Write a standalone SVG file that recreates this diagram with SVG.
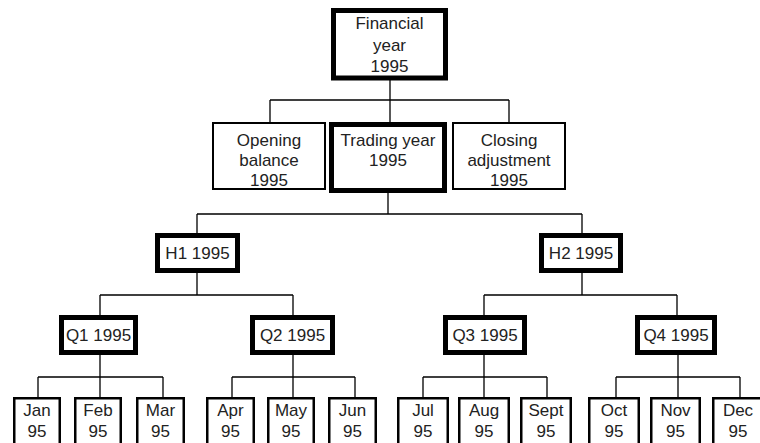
<svg xmlns="http://www.w3.org/2000/svg" width="760" height="443" viewBox="0 0 760 443">
  <style>
    .thin { fill: #fff; stroke: #000; stroke-width: 2; }
    .thick { fill: #fff; stroke: #000; stroke-width: 5; }
    .month { fill: #fff; stroke: #000; stroke-width: 2.5; }
    .lbl { font-family: "Liberation Sans", Arial, sans-serif; font-size: 17px; fill: #222; text-anchor: middle; }
    .wire { fill: none; stroke: #000; stroke-width: 1.3; }
  </style>
  <rect width="760" height="443" fill="#fff"/>

  <!-- connectors -->
  <g id="connectors" class="wire">
    <path d="M390 80 V100 M270 100 H509 M270 100 V122 M390 100 V122 M509 100 V122"/>
    <path d="M388 193 V214 M197 214 H582 M197 214 V233 M582 214 V233"/>
    <path d="M197 273 V295 M100 295 H293 M100 295 V315 M293 295 V315"/>
    <path d="M582 273 V295 M484 295 H677 M484 295 V315 M677 295 V315"/>
    <path d="M100 355 V377 M38 377 H163 M38 377 V397 M100 377 V397 M163 377 V397"/>
    <path d="M293 355 V377 M232 377 H355 M232 377 V397 M293 377 V397 M355 377 V397"/>
    <path d="M484 355 V377 M423 377 H547 M423 377 V397 M484 377 V397 M547 377 V397"/>
    <path d="M678 355 V377 M616 377 H740 M616 377 V397 M678 377 V397 M740 377 V397"/>
  </g>

  <!-- level 0 -->
  <g id="financial-year">
    <rect class="thick" x="333.5" y="10.5" width="112" height="67.5"/>
    <text class="lbl" x="389.5" y="29">Financial</text>
    <text class="lbl" x="389.5" y="50.5">year</text>
    <text class="lbl" x="389.5" y="72">1995</text>
  </g>

  <!-- level 1 -->
  <g id="opening-balance">
    <rect class="thin" x="213" y="123" width="112" height="66"/>
    <text class="lbl" x="269" y="146">Opening</text>
    <text class="lbl" x="269" y="166">balance</text>
    <text class="lbl" x="269" y="186">1995</text>
  </g>
  <g id="trading-year">
    <rect class="thick" x="331.5" y="124.5" width="113" height="66"/>
    <text class="lbl" x="388" y="146">Trading year</text>
    <text class="lbl" x="388" y="166">1995</text>
  </g>
  <g id="closing-adjustment">
    <rect class="thin" x="453" y="123" width="112" height="66"/>
    <text class="lbl" x="509" y="146">Closing</text>
    <text class="lbl" x="509" y="166">adjustment</text>
    <text class="lbl" x="509" y="186">1995</text>
  </g>

  <!-- halves -->
  <g id="h1">
    <rect class="thick" x="157.5" y="235.5" width="80" height="35"/>
    <text class="lbl" x="197.5" y="259">H1 1995</text>
  </g>
  <g id="h2">
    <rect class="thick" x="541.5" y="235.5" width="79" height="35"/>
    <text class="lbl" x="581" y="259">H2 1995</text>
  </g>

  <!-- quarters -->
  <g id="q1">
    <rect class="thick" x="61.5" y="317.5" width="74" height="35"/>
    <text class="lbl" x="98.5" y="341">Q1 1995</text>
  </g>
  <g id="q2">
    <rect class="thick" x="252.5" y="317.5" width="80" height="35"/>
    <text class="lbl" x="292.5" y="341">Q2 1995</text>
  </g>
  <g id="q3">
    <rect class="thick" x="445.5" y="317.5" width="79" height="35"/>
    <text class="lbl" x="485" y="341">Q3 1995</text>
  </g>
  <g id="q4">
    <rect class="thick" x="637.5" y="317.5" width="77" height="35"/>
    <text class="lbl" x="676" y="341">Q4 1995</text>
  </g>

  <!-- months -->
  <g id="jan"><rect class="month" x="14.25" y="398.25" width="45.5" height="60"/><text class="lbl" x="37" y="416">Jan</text><text class="lbl" x="37" y="437">95</text></g>
  <g id="feb"><rect class="month" x="75.25" y="398.25" width="45.5" height="60"/><text class="lbl" x="98" y="416">Feb</text><text class="lbl" x="98" y="437">95</text></g>
  <g id="mar"><rect class="month" x="137.25" y="398.25" width="46.5" height="60"/><text class="lbl" x="160.5" y="416">Mar</text><text class="lbl" x="160.5" y="437">95</text></g>
  <g id="apr"><rect class="month" x="207.25" y="398.25" width="46.5" height="60"/><text class="lbl" x="230.5" y="416">Apr</text><text class="lbl" x="230.5" y="437">95</text></g>
  <g id="may"><rect class="month" x="268.25" y="398.25" width="45.5" height="60"/><text class="lbl" x="291" y="416">May</text><text class="lbl" x="291" y="437">95</text></g>
  <g id="jun"><rect class="month" x="329.25" y="398.25" width="46.5" height="60"/><text class="lbl" x="352.5" y="416">Jun</text><text class="lbl" x="352.5" y="437">95</text></g>
  <g id="jul"><rect class="month" x="398.25" y="398.25" width="49.5" height="60"/><text class="lbl" x="423" y="416">Jul</text><text class="lbl" x="423" y="437">95</text></g>
  <g id="aug"><rect class="month" x="459.25" y="398.25" width="49.5" height="60"/><text class="lbl" x="484" y="416">Aug</text><text class="lbl" x="484" y="437">95</text></g>
  <g id="sept"><rect class="month" x="521.25" y="398.25" width="49.5" height="60"/><text class="lbl" x="546" y="416">Sept</text><text class="lbl" x="546" y="437">95</text></g>
  <g id="oct"><rect class="month" x="589.25" y="398.25" width="49.5" height="60"/><text class="lbl" x="614" y="416">Oct</text><text class="lbl" x="614" y="437">95</text></g>
  <g id="nov"><rect class="month" x="651.25" y="398.25" width="48.5" height="60"/><text class="lbl" x="675.5" y="416">Nov</text><text class="lbl" x="675.5" y="437">95</text></g>
  <g id="dec"><rect class="month" x="713.25" y="398.25" width="49.5" height="60"/><text class="lbl" x="738" y="416">Dec</text><text class="lbl" x="738" y="437">95</text></g>
</svg>
